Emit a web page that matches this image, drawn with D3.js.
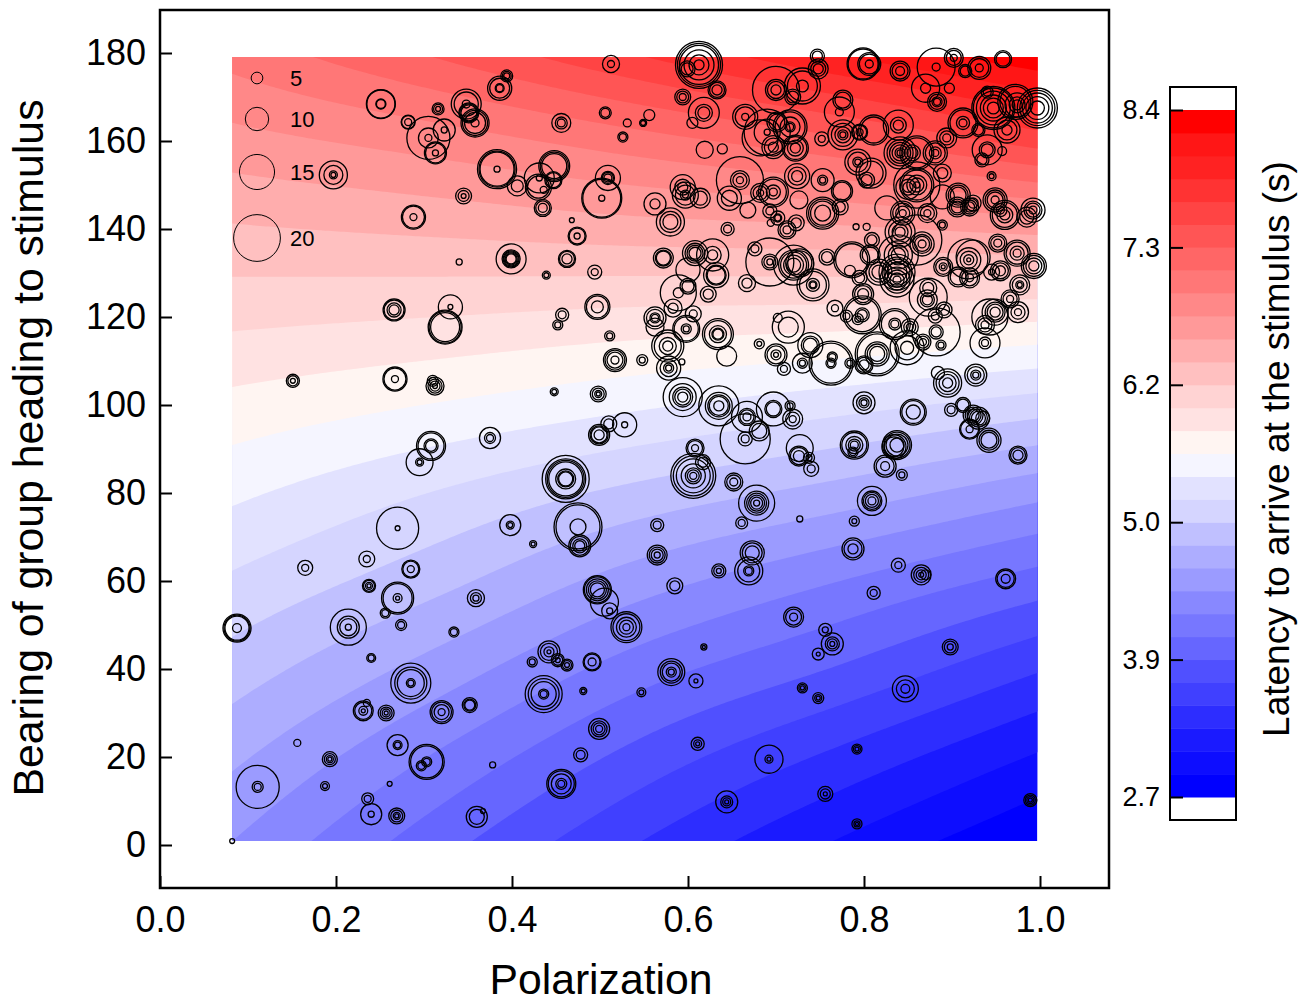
<!DOCTYPE html>
<html>
<head>
<meta charset="utf-8">
<script src="https://cdn.jsdelivr.net/npm/d3@7"></script>
<style>
body { margin: 0; background: #fff; }
text { font-family: "Liberation Sans", Arial, sans-serif; fill: #000; }
.axis-x text, .axis-y text { font-size: 36px; }
.axis-c text { font-size: 27px; }
.tick line { stroke: #000; stroke-width: 2px; }
.ring { fill: none; stroke: #000; stroke-width: 1.3px; }
</style>
</head>
<body>
<svg id="chart" width="1310" height="1001"></svg>
<script>
// latency surface, rows = bearing, columns = polarization
const GRID_POL = [0.082, 0.314, 0.545, 0.773, 0.997];
const GRID_BEARING = [0, 20, 40, 60, 80, 100, 120, 140, 160, 180];
const LATENCY_082 = [4.40, 4.64, 4.89, 5.14, 5.40, 5.68, 5.98, 6.29, 6.62, 6.96];
const LATENCY_314 = [3.91, 4.20, 4.52, 4.85, 5.16, 5.54, 5.93, 6.35, 6.78, 7.29];
const LATENCY_545 = [3.45, 3.77, 4.12, 4.50, 4.92, 5.39, 5.87, 6.42, 6.99, 7.66];
const LATENCY_773 = [3.05, 3.41, 3.82, 4.22, 4.71, 5.24, 5.84, 6.47, 7.22, 8.04];
const LATENCY_997 = [2.70, 3.06, 3.48, 3.95, 4.47, 5.08, 5.78, 6.56, 7.53, 8.38];

const BAND_COLORS = ['#0000ff','#0d0dff','#1a1aff','#2d2dff','#4040ff','#5050ff','#6666ff','#7777ff','#8888ff','#9b9bff',
  '#adadff','#c0c0ff','#d5d5ff','#e2e2ff','#f5f5ff','#fff5f2','#ffe2e2','#ffd3d3','#ffc0c0','#ffadad',
  '#ff9999','#ff8888','#ff7777','#ff6666','#ff5555','#ff4444','#ff3333','#ff2222','#ff1616','#ff0000'];

const CBAR_TICKS = [2.7, 3.84, 4.98, 6.12, 7.26, 8.4];
const CBAR_LABELS = ['2.7', '3.9', '5.0', '6.2', '7.3', '8.4'];
const LEGEND_SIZES = [5, 10, 15, 20];

const polarization = [
.5125,.394,.386,.251,.348,.351,.358,.316,.282,.305,
.323,.313,.197,.456,.506,.531,.526,.549,.556,.383,
.406,.448,.430,.447,.431,.436,.435,.509,.502,.345,
.288,.468,.474,.399,.340,.4625,.439,.494,.266,.330,
.324,.457,.452,.497,.511,.517,.548,.151,.267,.310,
.3125,.448,.498,.528,.510,.499,.308,.295,.375,.461,
.270,.398,.424,.475,.477,.165,.235,.285,.2375,.270,
.359,.256,.274,.334,.0875,.214,.240,.285,.231,.235,
.257,.320,.352,.436,.481,.530,.497,.505,.511,.442,
.452,.4625,.423,.491,.547,.156,.270,.193,.303,.297,
.378,.499,.478,.111,.1875,.261,.456,.236,.240,.269,
.360,.367,.082,.594,.635,.667,.697,.716,.719,.681,
.665,.8,.856,.899,.9125,.924,.930,.935,.920,.942,
.975,.608,.617,.606,.652,.678,.661,.727,.727,.726,
.7375,.740,.789,.7875,.8375,.834,.824,.843,.809,.789,
.565,.565,.673,.669,.635,.585,.7875,.839,.865,.870,
.961,.811,.720,.756,.764,.748,.898,.618,.581,.609,
.730,.748,.847,.611,.692,.792,.756,.644,.989,.792,
.572,.608,.628,.6,.6,.632,.589,.623,.583,.606,
.5625,.5625,.598,.577,.634,.644,.681,.714,.702,.578,
.593,.7,.709,.730,.739,.7625,.764,.784,.8,.815,
.767,.798,.780,.793,.835,.852,.849,.867,.882,.8875,
.884,.895,.927,.9375,.943,.949,.9375,.975,.966,.977,
.955,.952,.974,.993,.945,.918,.919,.924,.907,.890,
.920,.960,.992,.985,.955,.906,.920,.889,.844,.872,
.826,.791,.803,.841,.866,.809,.807,.786,.839,.860,
.8375,.8375,.817,.795,.784,.799,.873,.873,.872,.891,
.881,.742,.720,.727,.693,.676,.667,.758,.645,.693,
.702,.723,.7125,.694,.753,.773,.668,.580,.5625,.6125,
.599,.633,.594,.618,.605,.747,.748,.730,.7,.719,
.799,.806,.841,.882,.902,.915,.931,.958,.870,.897,
.883,.997,.972,.947,.940,.9625,.974,.9125,.930,.894,
.940,.934,.957,.945,.665,.690,.701,.716,.682,.697,
.722,.772,.776,.776,.795,.811,.839,.752,.619,.639,
.841,.860,.855,.881,.889,.793,.808,.803,.659,.697,
.682,.724,.753,.775,.594,.597,.614,.647,.726,.860,
.85,.907,.924,.949,.889];

const bearing = [
177.5,174.8,172,168.4,168.4,166.4,164.1,167.3,164.3,160.7,
162.5,157.3,152.3,164.1,166.4,164.1,160.9,164.1,165.9,153.6,
149.8,154.3,149.5,151.1,151.6,148.9,144.8,151.6,147,147.5,
142.7,142,138.4,133.2,132.5,133.2,129.5,130.2,121.6,122.3,
117.7,120.5,118.2,122.3,115.7,110.2,110.2,105.5,105.9,105.5,
104.3,103,102.5,95.5,95.7,93.2,90.7,87,92.5,83.2,
72,72.7,68.4,72.3,68,63,65,62.7,58.9,56.1,
56.1,52.7,50,48.4,49.3,49.5,42.5,36.8,30.5,32.3,
30,30.2,31.8,34.3,35,49.5,58,55.2,53.2,43.9,
42,40.9,41.6,41.6,34.7,23.2,22.7,19.5,18.9,18,
18.2,26.4,20.5,13.2,13.4,13.9,13.9,10.5,7,6.6,
6.4,7.7,.9,101.8,99.8,97.3,99.1,99.8,96.8,94.1,
92.3,100.5,98.4,98.9,100,97.7,97,97,94.5,92,
88.6,90.2,87,83.9,82.5,77.7,73.2,74.1,90.2,88.4,
88,85.5,90.9,89.3,90.9,90.5,86.1,84.1,78.2,73.6,
72.7,65.9,66.4,62.3,62.3,58.9,67.3,63.6,61.4,61.4,
60.5,57.3,51.8,48.9,45.7,43.4,45,45,39.3,37.3,
35.7,33.4,35.5,23,19.5,21.8,11.6,9.8,10.2,4.8,
133.4,134.5,134.1,130.7,127,129.5,125.5,125.2,122,120.7,
119.8,117.7,117.3,113.4,116.1,111.1,113.9,117.7,119.8,108.4,
109.8,111.4,108.2,109.5,113.6,109.5,110.9,109.5,109.1,111.6,
122,120.5,120.2,119.5,118.4,117.7,113,114.3,116.6,113.6,
107.3,105,106.8,114.1,120,121.1,118.2,121.1,124.1,127.3,
130.5,136.8,134.5,131.6,130.2,133.2,133,133.6,129.1,131.4,
128.9,143.2,144.3,142.7,144.3,145,145,140.9,143.6,143.6,
144.8,140.5,140.5,139.3,136.6,137.5,134.1,133,134.1,137.5,
130.2,128.4,130.2,128.9,130.5,125.2,124.5,126.6,123.9,121.6,
120.2,127.3,131.8,132.3,132.5,135.5,127.7,133.6,140,144.1,
142.5,141.4,139.8,141.4,143.6,145,144.3,141.6,145.7,177.3,
176.4,171.6,170,166.4,164.1,179.3,176.4,172.5,171.6,170,
177.5,177.5,175.9,176.8,178.9,175.9,176.6,178.6,172,172,
168.9,167.5,168.9,167.5,171.1,162.5,168.2,164.1,162.5,160.7,
158,155.7,157.7,152,165.5,162,164.3,163.2,160.7,158.6,
158.4,166.6,169.3,161.4,162,162.5,163.6,160.5,158,158.2,
157.3,157.3,157.3,157.3,152.7,155.2,152.7,151.1,151.1,148.4,
148.2,152,151.1,148.6,149.5,147.7,147,147,146.6,150,
149.5,147.7,145.9,146.6,147.3];

// every position has a set of concentric ring sizes
const ringSizes = [
[7.3,3],[5.1,3.8,2.6],[10.3,8.5,3.8,3],[12.4,12,4.3,3.8],[12.8,10.3,3.4],[8.5,7.7,6.8],[12,10.7,9,3.4],[5.1,3.8,2.1],[6,5.6,3],[18.4,8.5,3],
[9.4,2.6],[9.4,8.5,2.6],[12,8.1,3.4,2.1],[8.1,5.1,3.4],[5.1,3.8],[3.4],[4.3,3],[3,2.1],[4.7],[16.7,15.4,14.5,2.6],
[8.5,5.1],[13.2,12,10.7],[11.1,9.4],[7.3,6.4],[12.8,2.6],[3],[7.3,6,3.8],[10.7,5.6,4.7,3.4],[17.1,16.2,2.6],[6.8,4.7,2.1],
[10.3,9.4,3],[2.1],[7.7,6.8,2.6],[12.8,7.7,6.8,6,5.1,4.3],[2.6],[7.3,6.4,4.3],[3.4,2.1],[6,3],[9.4,8.5,6,4.3],[10.3,2.1],
[14.5,13.7,12.4],[5.6,3.4],[4.3,2.6],[10.7,9.4,5.1],[4.3,2.6],[9.8,8.5,6.8,3.4],[4.7,2.6],[5.6,4.3,2.1],[10.3,9.4,3],[4.7,3],
[7.7,6,4.3,2.1],[3.4,2.1],[6.8,5.1,3,1.7],[10.3,2.6],[6.8,4.3],[9,7.7,6.8,4.3],[12.4,11.1,6,4.7],[11.5,3.4,2.1],[9,4.7,3],[20.1,17.1,15.8,14.5,8.5,6.8,6],
[18,2.1],[9,3.4,2.1],[3,1.7],[20.5,18.8,6.8],[9.4,8.1,6,4.3],[6.4,3],[6.8,3],[7.7,6.8,3],[5.6,4.7,3,1.7],[13.7,12.4,3.8,1.7],
[7.3,4.7,2.6],[4.3,3],[4.7,3],[4.3,3],[12,11.1,10.3,3.8],[15.4,9.4,7.3,2.6],[3.8,2.6],[17.1,13.7,11.5,3.8,2.6],[8.5,7.3,3.8,1.7],[3],
[6.8,5.1,3.4,1.7],[9.8,8.5,6.4,3],[6.4,5.1,4.3],[15.8,13.2,10.7,4.3,3],[3,1.7],[13.2,11.5,8.5,6,3],[12,11.1,9.4,7.7,6],[12],[6.8,2.6],[9.4,7.3,4.3,1.7],
[5.6,4.3,2.1],[5.1,3.8,2.1],[4.3,2.6],[7.7,6.8,3.4],[3.8,2.1],[3],[9,3.8,2.6],[6.4,4.7,3,1.7],[15,13.7,4.3,3],[4.3,3],
[2.6],[9,6.8,5.1,3],[6,3.8],[18.4,4.7,3],[3.8,2.1],[2.1],[12.4,11.1,8.5,4.7,3],[5.1,3],[9,2.6],[6.8,5.1,3,1.7],
[9,6.4],[2.1],[2.1],[16.7,11.5,8.5,6.8,4.3],[17.1,11.5,9.4,8.1,4.3],[13.2,7.3,6,3.4],[14.5,7.3,6],[4.3,2.6],[8.5,6,3],[8.5,6.4],
[21.4,6,3.4],[9.4,6.4,4.3,2.6],[11.1,9.8,6],[5.6,3.4],[6.4,5.1],[8.5,6.8,5.1],[9.4,7.7,6],[6],[8.5,7.7,3],[10.3,8.5,6.8],
[7.7,6.4,4.3],[7.7,6.4,3],[6.4,4.3],[19.2,17.1,14.5,10.3,6.8,5.1,3],[7.7,6,3.4],[15.4,10.3,8.5,6.8,5.1,2.6],[5.1,3],[2.6],[11.5],[8.5,7.3,4.7],
[4.7,2.6],[6.4,3.4],[12,10.7,7.3,5.1,3.4],[4.3,3],[12.4,11.1,9.4,6],[10.3,8.5],[9.4,7.7,3.8],[4.7,2.6],[12.4,8.5,7.3,5.6,3.4],[4.3,2.1],
[5.6,3.4],[8.5,6.8,5.1,2.6],[10.3,8.5,6],[12,9.4,4.3,3],[6,4.3,2.1],[6.8,4.3],[9.4,7.7,4.3],[6,3],[8.5,6.4,4.3,2.1],[4.3],
[8.5,7.3,3.8],[5.6,3],[8.5,6.8,3.4],[5.6,2.6],[9.4,6,4.3,2.1],[5.1,1.7],[6.8,5.1,2.6],[2.6,1.3],[11.5,9.4,7.7,4.3,2.6],[6,1.7],
[4.3,3,1.7],[4.7,3,1.7],[11.1,7.7,3.8],[5.6,3.4,1.7],[12,3.4,1.7],[4.3,3,1.7],[6.4,4.3,1.7],[9.4,5.1,3.4,1.7],[5.6,4.3,3,1.7],[4.3,2.6,1.3],
[8.5,6.8,6],[10.7,8.5,6.8,5.1],[13.7,7.3,4.3],[10.3],[6.8,5.1],[10.7,8.5,7.7],[15.4,4.3],[6.8,4.3],[7.7,4.3],[6.8,3.4],
[9.4,7.3,4.3,3],[7.7],[11.5,10.3,4.3,2.6],[13.7,11.5,7.3,4.3],[13.2,11.5,7.3,5.1,4.3],[8.5],[4.3,2.1],[13.7,8.5],[3.8],[10.3,7.3,4.3,2.6],
[2.6],[9.4,7.7,4.3,2.1],[5.6,3],[8.5,4.3,2.6],[10.7,7.7,6],[18.8,17.1,4.3,3],[4.3,3],[4.3,2.6],[7.7,6.4,4.3],[18.8,17.1,10.3,8.5,6.4],
[6.8,3],[16.2,14.5,6,4.3],[5.1,3],[4.7,2.6],[13.2,11.5,5.1,3.4],[7.3,5.1,3],[14.5,10.3,5.6],[6.8,5.1,3],[20.5,6,4.3],[4.3,2.6],
[5.6],[12,9.8,7.3,4.3],[9.4,7.3,4.3,2.6],[12.8,5.1,3],[15.4],[11.1,8.5,6.8,4.3],[8.1,6,3.4],[9,6,3],[7.7,6,3],[8.5,6.4,3.4,2.1],
[8.5,6.8,4.3],[7.7,6,3.4],[11.1,9.4,6,3.4],[10.7,9,6.8,4.3],[6.8,2.6],[17.1],[10.3,7.3,4.3,1.7],[14.5],[8.5,6.8],[8.1,6.4,3.4,1.7],
[8.5,6.8,3.4],[12.4,10.7,6.8,4.3],[10.3,7.7,6,3.4],[8.5,6],[5.6,3.4],[8.5,6.8,5.1],[7.7,6,4.3],[4.3,2.6],[10.3,8.5,6,3],[8.1,6,3],
[10.3],[2.6],[3],[12.8,9.8,6.8,4.3],[10.3,8.1,6.4,3.4],[6.4,4.3],[8.5,6.8],[15.4,13.7],[17.1,12,8.5,6],[21.4],
[15.4,12.8,11.1,8.5],[14.5,11.1,8.5,6,3.4],[11.1,8.5,6],[6.4,4.3],[4.7],[9,7.3,4.7],[16.2],[7.3,4.7],[8.5,6,4.3],[6.8,4.7],
[6,3.4],[13.7,11.5,5.6,3.4,2.6],[17.1,12.8,11.1,8.5,6],[12,10.3],[20.5,6.8,5.1,2.6],[6,3.4],[7.3,4.3],[6.8,4.7],[5.6,3.4],[6,3.4],
[6,3.4,2.6],[6.8,4.3],[7.7,6,3.4],[3],[13.7,12,10.3,6.8],[6.8,4.3],[6.8],[12,9,6.4],[9.4,4.3],[20.1,18.4,16.7,12.8,8.5,4.3],
[6.8,5.1],[7.7,6.4,4.3],[6.8,5.1,3],[13.2,7.3,5.1],[4.7],[6,4.3],[8.5,6.4,4.3],[15.4,12.8,5.1],[20.1,9,7.3,4.3],[6.8,5.1],
[13.7,12.8],[9.8,8.5,3.4],[8.5,6.8,3.8],[16.2,3.4],[8.1,6.4,3],[5.6,4.3],[9.8,8.1,3.4],[7.3,6],[12,4.3],[4.3],
[8.1,6.4,4.3,3],[17.1,15,12.8,9.8,6],[15,13.2],[18.4,17.1,14.5,11.1,8.5,5.1],[5.1,3.4],[11.1,8.5,4.3],[10.3,6.8,4.3],[12.8,11.1,5.6,3.4],[5.6,4.3],[8.5,6,3.4],
[12.8,6.8,5.1],[6,4.3],[3.8],[3.8,2.1],[10.7,8.5,3],[19.7,11.1,2.6],[8.5,6.8],[14.5,12.8,8.5,4.3,3],[15.4],[9.8,7.7,4.3],
[11.1,9.8,6.8,4.3],[12.8,3.4],[8.5,6.8],[12.8,9.8,6.8,4.3,2.6],[6.8,6,3],[12.8,11.1],[12.8,6.8,4.3],[6,3],[7.3],[4.3],
[13.7,11.1,9,6.8,4.3,2.6],[14.5,12.8],[6.8,4.7],[10.3,8.5,5.1,3],[7.7,4.7],[11.1,8.5,4.3,2.6],[12.8,10.3],[6.8,4.7],[20.1,8.1,6,3],[12.8,11.1,6,3.4],
[8.1,6,3],[10.7,7.7,4.7],[9.8,4.3,2.6],[9,7.7],[10.7,6.8,4.3],[11.1,8.5,4.3,2.6],[8.5,6],[10.3,6.8],[7.7],[19.7,14.5,12.8,8.5,6,2.6],
[10.3,6.8,4.3],[10.3,8.5,6.8],[6.8,4.3],[10.3,8.5,6.8,3.4],[10.3]];

const svg = d3.select('#chart');

// plot box
const BOX = {left: 160, right: 1109, top: 10, bottom: 888};

const xScale = d3.scaleLinear().domain([0, 1]).range([160, 1040]);
const yScale = d3.scaleLinear().domain([0, 180]).range([845, 53]);
const rScale = d3.scaleLinear().domain([0, 20]).range([0, 23.4]);

// levels between the colour bands
const LEVEL_STEP = (8.4 - 2.7) / BAND_COLORS.length;
const levels = BAND_COLORS.map((c, i) => 2.7 + LEVEL_STEP * i);

function catmull(p0, p1, p2, p3, t) {
    return 0.5 * (2 * p1 + (p2 - p0) * t + (2 * p0 - 5 * p1 + 4 * p2 - p3) * t * t + (3 * p1 - p0 - 3 * p2 + p3) * t * t * t);
}

function sample(arr, coords, v) {
    var i = Math.min(d3.bisectRight(coords, v) - 1, coords.length - 2);
    i = Math.max(i, 0);
    var t = (v - coords[i]) / (coords[i + 1] - coords[i]);
    var a = arr[Math.max(i - 1, 0)], b = arr[i], c = arr[i + 1], d = arr[Math.min(i + 2, arr.length - 1)];
    // keep ends from flattening out
    if (i === 0) a = 2 * b - c;
    if (i === arr.length - 2) d = 2 * c - b;
    return catmull(a, b, c, d, t);
}

function drawField() {
    const columns = [LATENCY_082, LATENCY_314, LATENCY_545, LATENCY_773, LATENCY_997];
    const nx = 260, ny = 260;
    const polAt = i => GRID_POL[0] + (i / (nx - 1)) * (GRID_POL[4] - GRID_POL[0]);
    const brgAt = j => (j / (ny - 1)) * 180;

    var values = new Array(nx * ny);
    for (var j = 0; j < ny; j++) {
        var b = brgAt(j);
        var row = columns.map(c => sample(c, GRID_BEARING, b));
        for (var i = 0; i < nx; i++) {
            values[j * nx + i] = sample(row, GRID_POL, polAt(i));
        }
    }

    const contours = d3.contours().size([nx, ny]).thresholds(levels.slice(1))(values);
    const path = d3.geoPath(d3.geoTransform({
        point: function (cx, cy) {
            this.stream.point(xScale(polAt(cx - 0.5)), yScale(brgAt(cy - 0.5)));
        }
    }));

    const left = xScale(GRID_POL[0]), right = xScale(GRID_POL[4]);
    const top = yScale(179.1), bottom = yScale(0.9);

    svg.append('clipPath').attr('id', 'field-clip')
    .append('rect')
    .attr('x', left).attr('y', top)
    .attr('width', right - left).attr('height', bottom - top);

    const field = svg.append('g').attr('clip-path', 'url(#field-clip)');
    field.append('rect')
    .attr('x', left).attr('y', top)
    .attr('width', right - left).attr('height', bottom - top)
    .attr('fill', BAND_COLORS[0]);

    field.selectAll('path')
    .data(contours)
    .enter()
    .append('path')
    .attr('d', path)
    .attr('fill', (d, i) => BAND_COLORS[i + 1]);
}

function drawRings() {
    const rings = [];
    polarization.forEach((p, i) => {
        (ringSizes[i] || []).forEach(s => rings.push({p: p, b: bearing[i], s: s}));
    });
    svg.append('g').selectAll('circle')
    .data(rings)
    .enter()
    .append('circle')
    .attr('class', 'ring')
    .attr('cx', d => xScale(d.p))
    .attr('cy', d => yScale(d.b))
    .attr('r', d => rScale(d.s));
}

function drawLegend() {
    const rowY = [78, 119, 172, 238];
    const g = svg.append('g');
    g.selectAll('circle')
    .data(LEGEND_SIZES)
    .enter()
    .append('circle')
    .attr('class', 'ring')
    .style('stroke-width', '1px')
    .attr('cx', 257)
    .attr('cy', (d, i) => rowY[i])
    .attr('r', d => rScale(d));
    g.selectAll('text')
    .data(LEGEND_SIZES)
    .enter()
    .append('text')
    .attr('x', 290)
    .attr('y', (d, i) => rowY[i] + 8)
    .attr('font-size', 22)
    .text(d => d);
}

function drawAxes() {
    svg.append('rect')
    .attr('x', BOX.left).attr('y', BOX.top)
    .attr('width', BOX.right - BOX.left).attr('height', BOX.bottom - BOX.top)
    .attr('fill', 'none').attr('stroke', '#000').attr('stroke-width', 2.5);

    const xAxis = d3.axisBottom(xScale)
    .tickValues([0, 0.2, 0.4, 0.6, 0.8, 1])
    .tickFormat(d3.format('.1f'))
    .tickSize(-12)
    .tickPadding(18);
    svg.append('g')
    .attr('class', 'axis-x')
    .attr('transform', `translate(0, ${BOX.bottom})`)
    .call(xAxis)
    .call(g => g.select('.domain').remove());

    const yAxis = d3.axisLeft(yScale)
    .tickValues(d3.range(0, 181, 20))
    .tickSize(-12)
    .tickPadding(14);
    svg.append('g')
    .attr('class', 'axis-y')
    .attr('transform', `translate(${BOX.left}, 0)`)
    .call(yAxis)
    .call(g => g.select('.domain').remove());

    svg.append('text')
    .attr('x', 601).attr('y', 994)
    .attr('text-anchor', 'middle')
    .attr('font-size', 42.7)
    .text('Polarization');

    svg.append('text')
    .attr('transform', 'translate(43, 448) rotate(-90)')
    .attr('text-anchor', 'middle')
    .attr('font-size', 42.8)
    .text('Bearing of group heading to stimulus');
}

function drawColorbar() {
    const cScale = d3.scaleLinear().domain([2.7, 8.4]).range([797, 110]);
    const barX = 1170, barW = 66;

    svg.append('g').selectAll('rect')
    .data(levels)
    .enter()
    .append('rect')
    .attr('x', barX)
    .attr('width', barW)
    .attr('y', d => cScale(d + LEVEL_STEP))
    .attr('height', d => cScale(d) - cScale(d + LEVEL_STEP) + 0.5)
    .attr('fill', (d, i) => BAND_COLORS[i]);

    svg.append('rect')
    .attr('x', barX).attr('y', 87)
    .attr('width', barW).attr('height', 733)
    .attr('fill', 'none').attr('stroke', '#000').attr('stroke-width', 2);

    const axis = d3.axisLeft(cScale)
    .tickValues(CBAR_TICKS)
    .tickFormat((d, i) => CBAR_LABELS[i])
    .tickSize(-13)
    .tickPadding(10);
    svg.append('g')
    .attr('class', 'axis-c')
    .attr('transform', `translate(${barX}, 0)`)
    .call(axis)
    .call(g => g.select('.domain').remove());

    svg.append('text')
    .attr('transform', 'translate(1289, 449) rotate(-90)')
    .attr('text-anchor', 'middle')
    .attr('font-size', 37)
    .text('Latency to arrive at the stimulus (s)');
}

drawField();
drawRings();
drawLegend();
drawAxes();
drawColorbar();
</script>
</body>
</html>
